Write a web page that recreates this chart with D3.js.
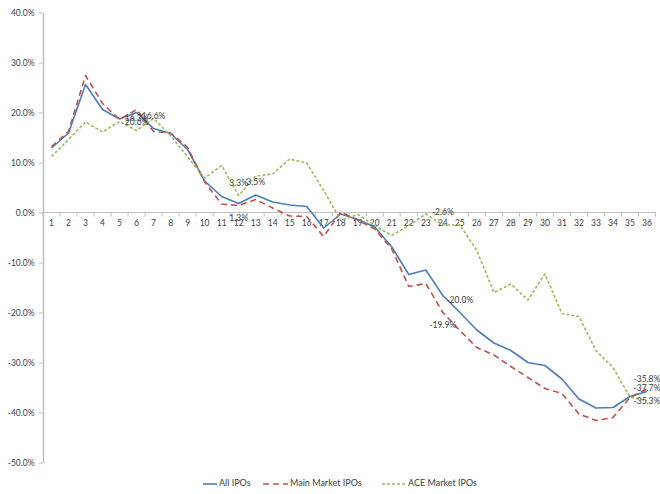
<!DOCTYPE html>
<html>
<head>
<meta charset="utf-8">
<script src="https://cdn.jsdelivr.net/npm/d3@7"></script>
<style>
html,body{margin:0;padding:0;background:#fff;}
svg text{font-family:Lato,"Open Sans",sans-serif;fill:#404040;}
</style>
</head>
<body>
<svg id="chart" width="660" height="494"></svg>
<script>
const categories = ["1","2","3","4","5","6","7","8","9","10","11","12","13","14","15","16","17","18","19","20","21","22","23","24","25","26","27","28","29","30","31","32","33","34","35","36"];
const allIPOs = [12.9, 15.9, 25.6, 20.6, 18.7, 20.0, 16.8, 15.8, 12.6, 6.3, 3.2, 1.8, 3.5, 2.1, 1.5, 1.2, -3.1, -0.3, -1.4, -2.9, -6.9, -12.4, -11.5, -16.6, -20.0, -23.5, -26.1, -27.6, -30.0, -30.6, -33.3, -37.3, -39.1, -39.0, -36.8, -35.8];
const mainIPOs = [13.2, 16.2, 27.4, 21.8, 18.6, 20.6, 16.2, 15.9, 13.0, 6.1, 1.7, 1.4, 2.6, 0.9, -0.7, -0.8, -4.8, 0.1, -1.5, -3.3, -7.3, -14.8, -14.2, -20.0, -23.6, -27.0, -28.5, -30.8, -33.0, -35.2, -36.2, -40.3, -41.6, -41.0, -37.0, -35.3];
const aceIPOs = [11.2, 14.6, 18.1, 16.1, 18.2, 16.4, 18.8, 15.4, 11.1, 6.9, 9.4, 3.4, 7.3, 7.7, 10.7, 9.9, 4.4, -1.6, -0.4, -2.6, -4.6, -2.6, -0.3, -2.5, -2.5, -7.6, -16.0, -14.3, -17.5, -12.3, -20.2, -20.8, -27.6, -31.0, -36.9, -37.7];
const yTicks = [40, 30, 20, 10, 0, -10, -20, -30, -40, -50];
const seriesNames = ["All IPOs", "Main Market IPOs", "ACE Market IPOs"];
const dataLabels = [
  {series: 2, cat: "6", text: "16.3%", pos: "above"},
  {series: 0, cat: "7", text: "16.6%", pos: "above"},
  {series: 1, cat: "6", text: "20.6%", pos: "below"},
  {series: 2, cat: "12", text: "3.3%", pos: "above"},
  {series: 0, cat: "13", text: "3.5%", pos: "above"},
  {series: 1, cat: "12", text: "1.3%", pos: "below"},
  {series: 2, cat: "24", text: "-2.6%", pos: "above"},
  {series: 0, cat: "25", text: "-20.0%", pos: "above"},
  {series: 1, cat: "24", text: "-19.9%", pos: "below"},
  {series: 0, cat: "36", text: "-35.8%", pos: "above"},
  {series: 2, cat: "36", text: "-37.7%", pos: "above"},
  {series: 1, cat: "36", text: "-35.3%", pos: "below"}
];

const seriesValues = [allIPOs, mainIPOs, aceIPOs];
const colors = ["#4a7ebb", "#c0504d", "#9bbb59"];
const dashes = [null, "6,4", "3,2"];

const svg = d3.select("#chart");
const x = d3.scaleBand().domain(categories).range([43, 655.5]);
const y = d3.scaleLinear().domain([-50, 40]).range([462.5, 12.5]);
const cx = c => x(c) + x.bandwidth() / 2;

// Y axis
const yAxis = svg.append("g").attr("transform", "translate(43,0)")
  .call(d3.axisLeft(y).tickValues(yTicks).tickSize(4).tickSizeOuter(0).tickFormat(d => d.toFixed(1) + "%"));
yAxis.select(".domain").attr("stroke", "#bfbfbf").attr("stroke-width", 1.5);
yAxis.selectAll(".tick line").attr("stroke", "#bfbfbf");
yAxis.selectAll(".tick text").attr("font-size", 8.5).attr("x", -8.5).attr("fill", "#404040");

// X axis at zero
const xg = svg.append("g").attr("transform", `translate(0,${y(0)})`);
xg.append("line").attr("x1", 43).attr("x2", 655.5).attr("stroke", "#bfbfbf").attr("stroke-width", 1.2);
const bounds = categories.map(c => x(c)).concat([x(categories[categories.length - 1]) + x.bandwidth()]);
xg.selectAll("line.tk").data(bounds).join("line").attr("class", "tk")
  .attr("x1", d => d).attr("x2", d => d).attr("y1", 0).attr("y2", 4)
  .attr("stroke", "#bfbfbf");
xg.selectAll("text").data(categories).join("text")
  .attr("x", d => cx(d)).attr("y", 11.5).attr("text-anchor", "middle")
  .attr("dominant-baseline", "middle").attr("font-size", 8.5).text(d => d);

// Lines
const line = d3.line().x((d, i) => cx(categories[i])).y(d => y(d));
seriesValues.forEach((vals, s) => {
  svg.append("path").datum(vals).attr("d", line)
    .attr("fill", "none").attr("stroke", colors[s]).attr("stroke-width", 1.6)
    .attr("stroke-dasharray", dashes[s]).attr("stroke-linejoin", "round");
});

// Data labels
svg.selectAll("text.lbl").data(dataLabels).join("text").attr("class", "lbl")
  .attr("x", d => cx(d.cat))
  .attr("y", d => y(seriesValues[d.series][categories.indexOf(d.cat)]) + (d.pos === "above" ? -12 : 13))
  .attr("text-anchor", "middle").attr("dominant-baseline", "middle")
  .attr("font-size", 8.5).attr("fill", "#303030").text(d => d.text);

// Legend
const legendItems = [
  {x1: 203, x2: 217, tx: 219},
  {x1: 263, x2: 288, tx: 290},
  {x1: 382, x2: 407, tx: 408}
];
const lg = svg.append("g");
seriesNames.forEach((n, s) => {
  const it = legendItems[s];
  lg.append("line").attr("x1", it.x1).attr("x2", it.x2).attr("y1", 484).attr("y2", 484)
    .attr("stroke", colors[s]).attr("stroke-width", 1.6).attr("stroke-dasharray", dashes[s]);
  lg.append("text").attr("x", it.tx).attr("y", 484).attr("dominant-baseline", "middle")
    .attr("font-size", 9).attr("fill", "#303030").text(n);
});
</script>
</body>
</html>
